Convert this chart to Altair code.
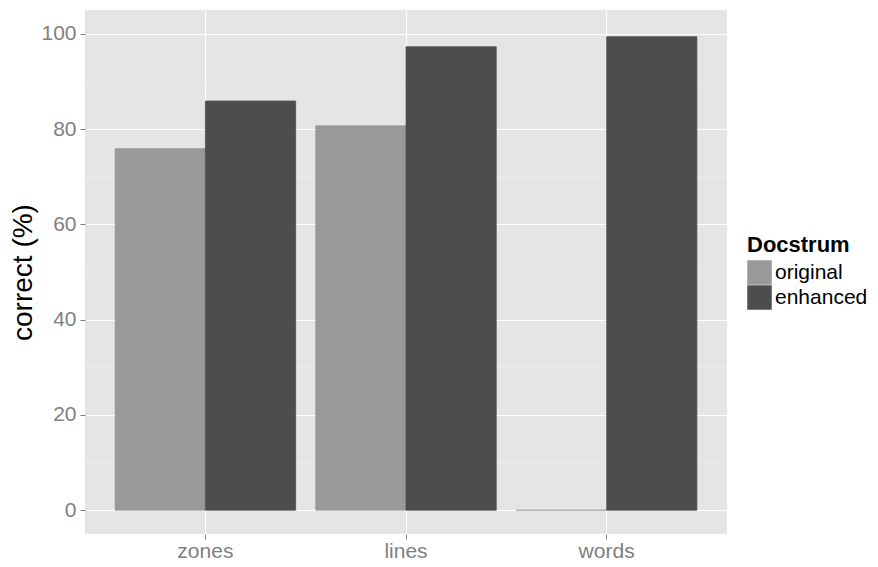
import altair as alt
import pandas as pd

categories = ["zones", "lines", "words"]
series = ["original", "enhanced"]
original_vals = [75.9, 80.7, 0.0]
enhanced_vals = [85.9, 97.3, 99.4]
y_ticks = [0, 20, 40, 60, 80, 100]
y_minor = [10, 30, 50, 70, 90]
bar_colors = ["#999999", "#4D4D4D"]

rows = []
for i, c in enumerate(categories):
    rows.append({"cat": c, "Docstrum": "original", "value": original_vals[i]})
    rows.append({"cat": c, "Docstrum": "enhanced", "value": enhanced_vals[i]})
df = pd.DataFrame(rows)
minor_df = pd.DataFrame({"v": y_minor})

FONT = "Liberation Sans"
ydom = [-5.0, 105.0]

yscale = alt.Scale(domain=ydom, nice=False, zero=False)

minor = alt.Chart(minor_df).mark_rule(color="#F2F2F2", strokeWidth=0.6).encode(
    y=alt.Y("v:Q", scale=yscale)
)

color_scale = alt.Scale(domain=series, range=bar_colors)

bars = alt.Chart(df).mark_bar(strokeWidth=0.7).encode(
    x=alt.X("cat:N", sort=categories,
            scale=alt.Scale(paddingInner=0.1, paddingOuter=0.15),
            axis=alt.Axis(title=None, bandPosition=0.5, grid=True, gridColor="white",
                          gridWidth=1.2, domain=False, tickColor="#7F7F7F", tickSize=5,
                          labelColor="#7F7F7F", labelFontSize=21, labelFont=FONT,
                          labelBaseline="alphabetic", labelPadding=18, labelAngle=0)),
    xOffset=alt.XOffset("Docstrum:N", sort=series),
    y=alt.Y("value:Q", scale=yscale,
            axis=alt.Axis(title="correct (%)", values=y_ticks, grid=True, gridColor="white",
                          gridWidth=1.2, domain=False, tickColor="#7F7F7F", tickSize=5,
                          labelColor="#7F7F7F", labelFontSize=21, labelFont=FONT,
                          labelPadding=4, titleFont=FONT, titleFontSize=28,
                          titleFontWeight="normal", titleColor="black", titlePadding=3)),
    y2=alt.datum(0),
    color=alt.Color("Docstrum:N", sort=series, scale=color_scale,
                    legend=alt.Legend(title="Docstrum", orient="none", legendX=662, legendY=225,
                                      symbolType="square", symbolSize=600, symbolStrokeWidth=0,
                                      rowPadding=0, labelOffset=3, padding=0, titlePadding=3,
                                      titleFont=FONT, titleFontSize=22, titleFontWeight="bold",
                                      titleColor="black", labelFont=FONT, labelFontSize=21,
                                      labelColor="black")),
    stroke=alt.Stroke("Docstrum:N", sort=series, scale=color_scale, legend=None),
)

chart = alt.layer(minor, bars).properties(
    width=642, height=524,
    autosize=alt.AutoSizeParams(type="none"),
    padding={"left": 77, "top": 2, "right": 143, "bottom": 30},
    background="white",
).configure_view(fill="#E5E5E5", stroke=None)

chart.save("out.html", embed_options={"renderer": "svg", "actions": False})
